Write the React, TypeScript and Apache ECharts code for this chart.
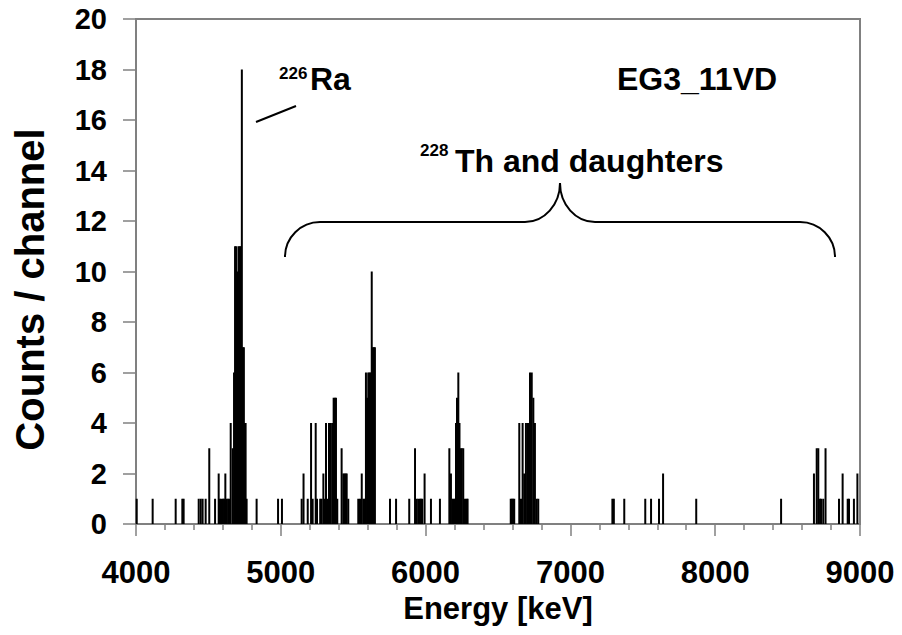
import React, { useEffect, useRef } from "react";
import * as echarts from "echarts";

// Spectrum channels (energy in keV) and their counts
const ENERGY = [
  4005, 4115, 4274, 4320, 4329, 4433, 4447, 4460, 4481, 4506, 4546, 4571, 4580, 4590, 4600, 4608,
  4617, 4626, 4636, 4645, 4654, 4668, 4677, 4684, 4692, 4700, 4708, 4716, 4723, 4731, 4738, 4745,
  4751, 4757, 4764, 4833, 4981, 5008,
  5144, 5157, 5186, 5209, 5220, 5241, 5250, 5272, 5282, 5294, 5303, 5312, 5320, 5333, 5345, 5356,
  5365, 5373, 5381, 5390, 5420, 5432, 5440, 5448, 5455, 5466, 5535, 5547, 5559, 5570, 5580, 5588,
  5596, 5604, 5613, 5620, 5628, 5636, 5643, 5650,
  5754, 5796, 5887, 5927, 5939, 5950, 5961, 5969, 5977, 5993, 6037, 6099,
  6164, 6175, 6184, 6193, 6203, 6210, 6217, 6226, 6234, 6242, 6250, 6260, 6272, 6284, 6290,
  6588, 6596, 6604, 6612, 6647, 6659, 6670, 6681, 6693, 6705, 6714, 6721, 6733, 6744, 6755, 6767, 6778,
  7290, 7300, 7372, 7517, 7557, 7612, 7640, 7869, 8455,
  8682, 8701, 8712, 8724, 8731, 8746, 8762, 8855, 8880, 8915, 8924, 8958, 8982,
];
const COUNTS = [
  1, 1, 1, 1, 1, 1, 1, 1, 1, 3, 1, 2, 1, 1, 1, 1,
  2, 1, 1, 1, 4, 3, 6, 11, 11, 10, 11, 11, 11, 18, 7, 7,
  4, 4, 1, 1, 1, 1,
  1, 2, 1, 4, 1, 4, 1, 1, 1, 2, 1, 4, 1, 4, 4, 4,
  5, 5, 5, 1, 3, 2, 2, 2, 2, 1, 1, 1, 2, 1, 1, 6,
  5, 6, 6, 6, 10, 7, 7, 7,
  1, 1, 1, 3, 1, 1, 1, 1, 1, 2, 1, 1,
  3, 2, 1, 1, 1, 4, 5, 6, 4, 3, 3, 3, 1, 1, 1,
  1, 1, 1, 1, 4, 1, 4, 2, 4, 4, 4, 6, 6, 5, 4, 1, 1,
  1, 1, 1, 1, 1, 1, 2, 1, 1,
  2, 3, 3, 1, 1, 1, 3, 1, 2, 1, 1, 1, 2,
];

const X_MIN = 4000;
const X_MAX = 9000;
const X_STEP = 1000;
const Y_MIN = 0;
const Y_MAX = 20;
const Y_STEP = 2;

const X_TITLE = "Energy [keV]";
const Y_TITLE = "Counts / channel";
const SAMPLE = "EG3_11VD";
const RA_MASS = "226";
const RA_NAME = "Ra";
const TH_MASS = "228";
const TH_NAME = "Th and daughters";

const FONT = "'Liberation Sans', Arial, sans-serif";
const BRACE_D =
  "M285,257 A35,35 0 0 1 320,222 L525,222 A35,39 0 0 0 560,183 A35,39 0 0 0 595,222 L800,222 A35,35 0 0 1 835,257";

export default function App() {
  const ref = useRef<HTMLDivElement>(null);

  useEffect(() => {
    document.body.style.margin = "0";
    if (!ref.current) return;
    try {
      echarts.graphic.registerShape("brace", echarts.graphic.extendPath(BRACE_D, {}));
    } catch (e) {}
    const chart = echarts.init(ref.current, null, { renderer: "svg" });
    const data = ENERGY.map((e, i) => [e, COUNTS[i]]);
    const txt = { fontFamily: FONT, fontWeight: "bold", fill: "#000" };
    chart.setOption({
      animation: false,
      backgroundColor: "#fff",
      grid: {
        left: 136,
        right: 42,
        top: 19,
        bottom: 111,
        outerBoundsMode: "none",
        containLabel: false,
        show: true,
        borderColor: "#808080",
        borderWidth: 2,
        backgroundColor: "transparent",
      },
      xAxis: {
        type: "value",
        min: X_MIN,
        max: X_MAX,
        interval: X_STEP,
        name: X_TITLE,
        nameLocation: "middle",
        nameGap: 67,
        nameTextStyle: { fontFamily: FONT, fontWeight: "bold", fontSize: 31, color: "#000" },
        axisLine: { show: true, lineStyle: { color: "#808080", width: 2 } },
        axisTick: { show: true, inside: false, length: 12, lineStyle: { color: "#808080", width: 1.5 } },
        minorTick: { show: true, splitNumber: 5, length: 6, lineStyle: { color: "#808080", width: 1.5 } },
        splitLine: { show: false },
        axisLabel: {
          fontFamily: FONT,
          fontWeight: "bold",
          fontSize: 31,
          color: "#000",
          margin: 33,
          formatter: (v: number) => String(v),
        },
      },
      yAxis: {
        type: "value",
        min: Y_MIN,
        max: Y_MAX,
        interval: Y_STEP,
        name: Y_TITLE,
        nameLocation: "middle",
        nameGap: 86,
        nameRotate: 90,
        nameTextStyle: {
          fontFamily: FONT,
          fontWeight: "bold",
          fontSize: 40,
          color: "#000",
          padding: [0, 36, 0, 0],
        },
        axisLine: { show: true, lineStyle: { color: "#808080", width: 2 } },
        axisTick: { show: true, inside: false, length: 13, lineStyle: { color: "#808080", width: 1.5 } },
        splitLine: { show: false },
        axisLabel: { fontFamily: FONT, fontWeight: "bold", fontSize: 29, color: "#000", margin: 29 },
      },
      series: [
        {
          type: "bar",
          data,
          barWidth: 2,
          itemStyle: { color: "#000" },
          silent: true,
        },
      ],
      graphic: [
        { type: "line", shape: { x1: 256, y1: 122, x2: 296, y2: 106 }, style: { stroke: "#000", lineWidth: 2 } },
        { type: "text", x: 279, y: 65, style: { ...txt, text: RA_MASS, fontSize: 17 } },
        { type: "text", x: 310, y: 63, style: { ...txt, text: RA_NAME, fontSize: 32 } },
        { type: "text", x: 617, y: 63, style: { ...txt, text: SAMPLE, fontSize: 32 } },
        { type: "text", x: 420, y: 142, style: { ...txt, text: TH_MASS, fontSize: 17 } },
        { type: "text", x: 455, y: 145, style: { ...txt, text: TH_NAME, fontSize: 32 } },
        {
          type: "brace",
          x: 0,
          y: 0,
          style: { stroke: "#000", lineWidth: 2, fill: "none" },
        },
      ],
    });
    return () => chart.dispose();
  }, []);

  return <div ref={ref} style={{ width: 902, height: 635 }} />;
}
